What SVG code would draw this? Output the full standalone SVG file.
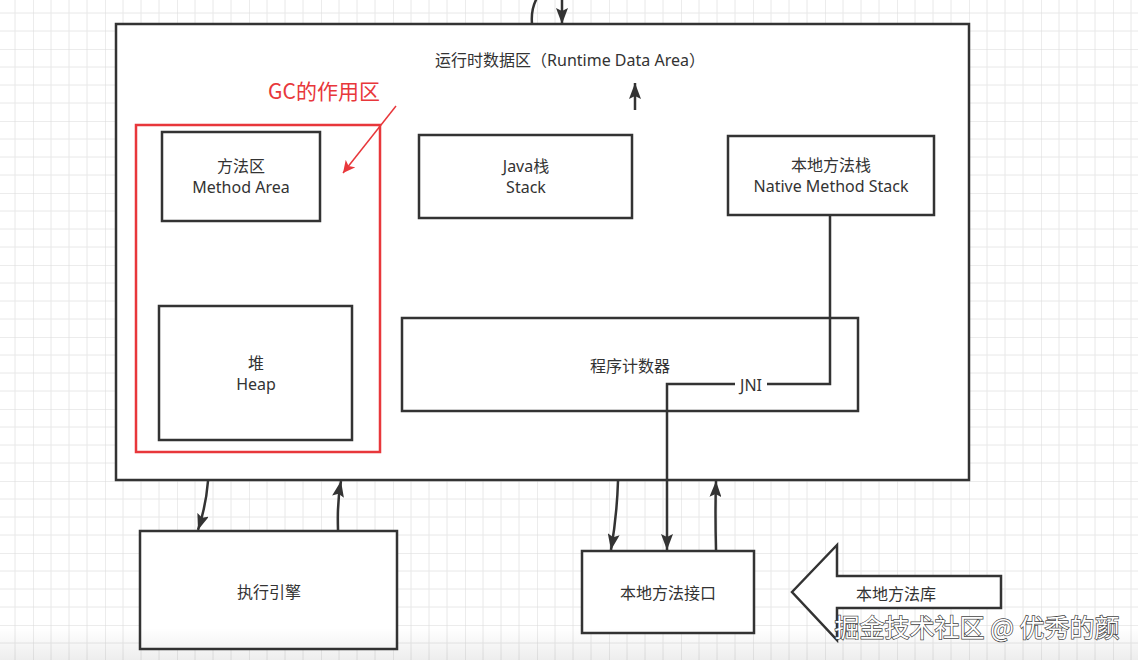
<svg xmlns="http://www.w3.org/2000/svg" width="1138" height="660" viewBox="0 0 1138 660">
  <defs>
    <pattern id="grid" x="33" y="49" width="72" height="72" patternUnits="userSpaceOnUse">
      <path d="M18,0 V72 M36,0 V72 M54,0 V72 M0,18 H72 M0,36 H72 M0,54 H72" stroke="#e8e8e8" stroke-width="1" fill="none"/>
      <path d="M0,0 V72 M0,0 H72" stroke="#d9d9d9" stroke-width="1" fill="none"/>
    </pattern>
    <linearGradient id="shade" x1="0" y1="0" x2="0" y2="1">
      <stop offset="0" stop-color="#000" stop-opacity="0"/>
      <stop offset="1" stop-color="#000" stop-opacity="0.07"/>
    </linearGradient>
    <marker id="ah" viewBox="0 0 16 12" refX="16" refY="6" markerWidth="16" markerHeight="12" markerUnits="userSpaceOnUse" orient="auto">
      <path d="M0,0 L16,6 L0,12 L3,6 Z" fill="#333"/>
    </marker>
    <marker id="ahr" viewBox="0 0 12 12" refX="12" refY="6" markerWidth="12" markerHeight="12" markerUnits="userSpaceOnUse" orient="auto">
      <path d="M0,0 L12,6 L0,12 L3,6 Z" fill="#e8373b"/>
    </marker>
    <style>
      .box { fill: #ffffff; stroke: #333333; stroke-width: 2.5; }
      .lbl { font-family: "Noto Sans", "Noto Sans CJK SC", sans-serif; font-size: 16px; fill: #333333; text-anchor: middle; }
      .conn { fill: none; stroke: #333333; stroke-width: 2.5; }
    </style>
  </defs>

  <rect x="0" y="0" width="1138" height="660" fill="#ffffff"/>
  <rect x="0" y="0" width="1138" height="660" fill="url(#grid)"/>

  <g id="runtime-data-area">
    <rect class="box" x="116" y="24" width="853" height="456"/>
    <text class="lbl" x="570" y="66">运行时数据区（Runtime Data Area）</text>
  </g>

  <g id="gc-area">
    <rect x="136" y="125" width="244" height="327" fill="none" stroke="#e8373b" stroke-width="2.5"/>
    <text x="324" y="99" font-family="Noto Sans CJK SC, sans-serif" font-size="21" fill="#e8373b" text-anchor="middle">GC的作用区</text>
  </g>

  <g id="method-area">
    <rect class="box" x="162" y="132" width="158" height="89"/>
    <text class="lbl" x="241" y="172">方法区</text>
    <text class="lbl" x="241" y="193">Method Area</text>
  </g>

  <g id="heap">
    <rect class="box" x="159" y="306" width="193" height="134"/>
    <text class="lbl" x="256" y="369">堆</text>
    <text class="lbl" x="256" y="390">Heap</text>
  </g>

  <g id="java-stack">
    <rect class="box" x="419" y="135" width="213" height="83"/>
    <text class="lbl" x="526" y="172">Java栈</text>
    <text class="lbl" x="526" y="193">Stack</text>
  </g>

  <g id="native-method-stack">
    <rect class="box" x="728" y="136" width="206" height="79"/>
    <text class="lbl" x="831" y="171">本地方法栈</text>
    <text class="lbl" x="831" y="192">Native Method Stack</text>
  </g>

  <g id="program-counter">
    <rect class="box" x="402" y="318" width="456" height="93"/>
    <text class="lbl" x="630" y="372">程序计数器</text>
  </g>

  <g id="execution-engine">
    <rect class="box" x="140" y="531" width="257" height="118"/>
    <text class="lbl" x="269" y="598">执行引擎</text>
  </g>

  <g id="native-interface">
    <rect class="box" x="582" y="551" width="172" height="82"/>
    <text class="lbl" x="668" y="599">本地方法接口</text>
  </g>

  <g id="native-library">
    <polygon class="box" points="792,592 837,545 837,576 1001,576 1001,608 837,608 837,640"/>
    <text class="lbl" x="896" y="600">本地方法库</text>
  </g>

  <g id="connectors">
    <path class="conn" d="M532,24 C531,12 533,5 537,-2"/>
    <path class="conn" d="M562,0 V24" marker-end="url(#ah)"/>
    <path class="conn" d="M635,110 V83" marker-end="url(#ah)"/>
    <path d="M396,106 L343,173" fill="none" stroke="#e8373b" stroke-width="1.5" marker-end="url(#ahr)"/>
    <path class="conn" d="M208,481 Q206,506 198,530" marker-end="url(#ah)"/>
    <path class="conn" d="M338,530 Q337,502 341,481" marker-end="url(#ah)"/>
    <path class="conn" d="M618,481 Q617,515 611,550" marker-end="url(#ah)"/>
    <path class="conn" d="M830,215 V384 H667 V550" marker-end="url(#ah)"/>
    <rect x="735" y="375" width="32" height="18" fill="#ffffff"/>
    <text class="lbl" x="751" y="391">JNI</text>
    <path class="conn" d="M716,550 Q715,512 716,481" marker-end="url(#ah)"/>
  </g>

  <rect x="0" y="628" width="1138" height="32" fill="url(#shade)"/>
  <text x="977" y="637" font-family="Noto Sans CJK SC, sans-serif" font-size="25" fill="#ffffff" stroke="#444444" stroke-width="1.4" paint-order="stroke" text-anchor="middle">掘金技术社区 @ 优秀的颜</text>
</svg>
